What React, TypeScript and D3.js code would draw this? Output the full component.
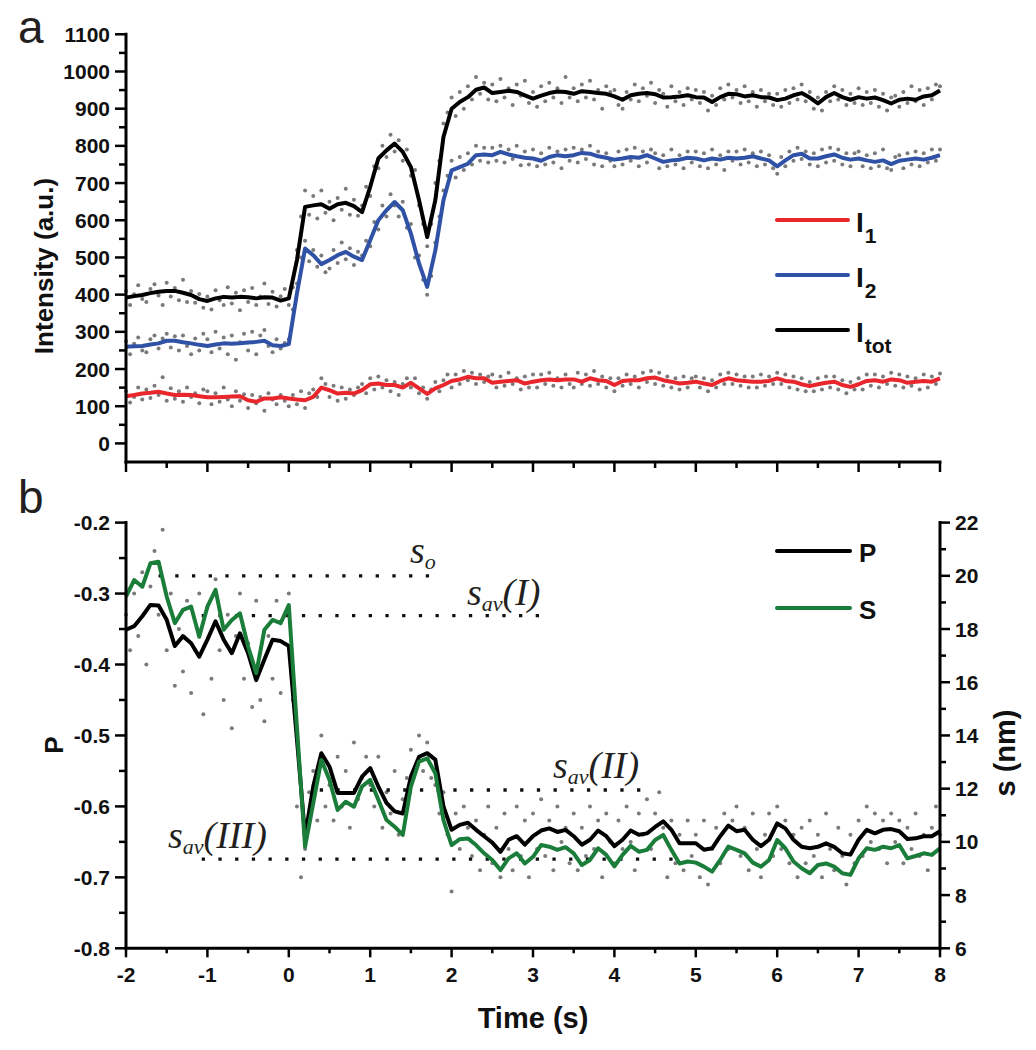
import React from 'react';
import * as d3 from 'd3';

// ---------- data ----------
const T_START = -2;
const LINE_STEP = 0.1;
const DOT_STEP = 0.05;

const ITOT_LINE = [
  392, 396, 399, 404, 408, 410, 410, 405, 399, 388,
  383, 390, 394, 392, 394, 393, 390, 393, 392, 384,
  390, 493, 636, 640, 643, 631, 643, 647, 638, 622,
  690, 766, 788, 806, 784, 743, 654, 555, 654, 824,
  900, 918, 931, 951, 957, 942, 945, 948, 945, 936,
  927, 935, 942, 946, 945, 940, 947, 945, 942, 940,
  933, 924, 936, 940, 942, 939, 930, 931, 933, 936,
  931, 930, 918, 931, 940, 939, 933, 936, 931, 930,
  923, 927, 936, 942, 930, 914, 931, 942, 931, 924,
  931, 927, 930, 923, 914, 924, 927, 924, 933, 936,
  949,
];

const I2_LINE = [
  260, 261, 262, 266, 269, 276, 276, 272, 269, 265,
  262, 266, 269, 268, 269, 271, 273, 276, 264, 262,
  267, 403, 524, 506, 482, 493, 506, 515, 502, 493,
  546, 600, 627, 649, 627, 564, 484, 421, 519, 654,
  734, 743, 752, 775, 777, 775, 784, 777, 772, 768,
  766, 760, 770, 775, 772, 775, 781, 779, 772, 768,
  763, 766, 770, 768, 775, 766, 757, 761, 763, 768,
  766, 761, 766, 763, 768, 766, 768, 772, 766, 761,
  745, 761, 775, 779, 766, 766, 772, 777, 768, 763,
  766, 761, 757, 761, 751, 760, 763, 766, 763, 768,
  775,
];

const I1_LINE = [
  127, 130, 134, 136, 139, 134, 130, 131, 130, 127,
  124, 124, 125, 126, 127, 116, 112, 121, 121, 124,
  121, 118, 116, 125, 150, 143, 134, 136, 134, 143,
  159, 161, 157, 157, 150, 163, 148, 133, 148, 157,
  168, 172, 179, 175, 175, 163, 166, 168, 170, 161,
  166, 170, 172, 170, 172, 172, 166, 175, 170, 168,
  157, 168, 170, 170, 175, 177, 170, 166, 161, 163,
  166, 161, 157, 168, 175, 170, 168, 166, 166, 168,
  175, 168, 166, 159, 154, 159, 163, 166, 157, 152,
  159, 168, 170, 166, 172, 170, 163, 166, 168, 166,
  175,
];

const P_LINE = [
  -0.351, -0.346, -0.332, -0.316, -0.317, -0.337, -0.374, -0.360, -0.370, -0.389,
  -0.365, -0.339, -0.365, -0.384, -0.356, -0.384, -0.422, -0.393, -0.365, -0.367,
  -0.374, -0.505, -0.642, -0.572, -0.525, -0.544, -0.581, -0.581, -0.581, -0.558,
  -0.546, -0.572, -0.595, -0.607, -0.610, -0.558, -0.530, -0.525, -0.534, -0.600,
  -0.633, -0.626, -0.623, -0.633, -0.642, -0.651, -0.664, -0.647, -0.642, -0.654,
  -0.642, -0.634, -0.631, -0.636, -0.633, -0.642, -0.654, -0.647, -0.634, -0.642,
  -0.656, -0.647, -0.634, -0.640, -0.638, -0.629, -0.621, -0.633, -0.652, -0.652,
  -0.652, -0.661, -0.659, -0.642, -0.627, -0.635, -0.633, -0.647, -0.656, -0.647,
  -0.624, -0.631, -0.647, -0.657, -0.659, -0.657, -0.652, -0.657, -0.666, -0.668,
  -0.647, -0.633, -0.638, -0.633, -0.632, -0.635, -0.646, -0.645, -0.642, -0.642,
  -0.635,
];

const S_LINE = [
  19.22, 19.84, 19.59, 20.47, 20.53, 19.22, 18.22, 18.72, 18.84, 17.71,
  18.84, 19.47, 17.97, 18.34, 18.59, 17.34, 16.34, 17.97, 18.34, 18.22,
  18.9, 14.3, 9.82, 11.45, 13.08, 12.33, 11.2, 11.51, 11.32, 12.08,
  12.33, 11.58, 10.82, 10.57, 10.26, 12.08, 13.02, 13.14, 12.58, 10.82,
  9.88, 10.1, 10.13, 9.88, 9.57, 9.32, 8.94, 9.38, 9.57, 9.19,
  9.44, 9.88, 9.82, 9.7, 9.8, 9.57, 9.13, 9.32, 9.76, 9.51,
  9.08, 9.51, 9.85, 9.63, 9.7, 10.07, 10.26, 9.7, 9.19, 9.26,
  9.22, 9.07, 8.88, 9.32, 9.82, 9.7, 9.57, 9.22, 9.07, 9.32,
  10.07, 9.76, 9.26, 9.01, 8.82, 9.13, 9.19, 9.07, 8.82, 8.76,
  9.38, 9.76, 9.7, 9.82, 9.76, 9.88, 9.38, 9.47, 9.57, 9.51,
  9.76,
];

const ITOT_DOTS = [
  410, 372, 401, 425, 388, 380, 415, 428, 398, 372,
  432, 395, 418, 385, 440, 380, 410, 378, 402, 365,
  395, 360, 412, 385, 372, 420, 376, 405, 358, 412,
  380, 418, 372, 395, 430, 375, 408, 368, 396, 415,
  372, 420, 520, 610, 680, 615, 665, 605, 680, 620,
  650, 600, 660, 628, 685, 615, 655, 612, 640, 690,
  665, 745, 740, 800, 770, 830, 785, 815, 760, 790,
  720, 735, 640, 590, 530, 590, 700, 760, 860, 890,
  930, 880, 945, 900, 960, 925, 985, 940, 970, 925,
  965, 920, 980, 930, 955, 910, 965, 935, 975, 915,
  945, 905, 960, 920, 970, 930, 955, 915, 985, 930,
  955, 920, 965, 930, 975, 925, 950, 900, 960, 945,
  950, 910, 900, 945, 925, 965, 920, 955, 935, 970,
  915, 950, 940, 905, 960, 920, 945, 910, 955, 925,
  950, 915, 945, 895, 935, 910, 955, 925, 965, 930,
  950, 915, 960, 920, 945, 905, 950, 920, 940, 910,
  940, 905, 950, 915, 955, 925, 965, 920, 945, 900,
  930, 895, 945, 920, 960, 925, 950, 910, 940, 915,
  955, 910, 945, 915, 950, 905, 940, 895, 930, 935,
  905, 945, 915, 960, 920, 950, 910, 955, 925, 965,
  960,
];

const I2_DOTS = [
  275, 240, 268, 285, 250, 245, 280, 290, 255, 282,
  295, 258, 288, 250, 290, 262, 240, 282, 250, 295,
  280, 245, 300, 255, 285, 240, 290, 225, 272, 295,
  250, 300, 240, 290, 305, 262, 245, 280, 255, 270,
  280, 360, 430, 500, 545, 490, 520, 475, 505, 460,
  470, 520, 485, 540, 495, 525, 480, 515, 505, 545,
  530, 595, 575, 640, 610, 670, 640, 610, 650, 580,
  590, 500, 505, 440, 400, 450, 540, 610, 680, 720,
  760, 715, 770, 735, 780, 750, 800, 760, 795, 755,
  795, 760, 800, 755, 790, 765, 800, 748, 785, 750,
  790, 745, 780, 750, 795, 755, 785, 740, 790, 760,
  795, 755, 790, 765, 800, 750, 785, 745, 780, 760,
  745, 785, 750, 790, 760, 795, 745, 785, 755, 790,
  780, 740, 775, 745, 790, 750, 775, 740, 785, 755,
  785, 745, 780, 740, 790, 750, 775, 735, 785, 760,
  785, 750, 790, 755, 780, 745, 785, 750, 775, 740,
  725, 770, 745, 785, 760, 795, 765, 785, 750, 780,
  745, 790, 755, 795, 760, 790, 750, 780, 745, 780,
  785, 745, 775, 740, 780, 745, 790, 740, 735, 770,
  775, 740, 780, 750, 785, 745, 780, 755, 790, 760,
  790,
];

const I1_DOTS = [
  140, 110, 125, 150, 118, 145, 122, 155, 130, 178,
  115, 148, 120, 140, 112, 150, 125, 135, 108, 145,
  140, 105, 135, 112, 150, 118, 100, 140, 115, 132,
  95, 130, 108, 125, 88, 135, 118, 105, 130, 115,
  100, 130, 105, 140, 95, 135, 145, 125, 175, 160,
  125, 155, 115, 150, 120, 145, 130, 150, 160, 135,
  175, 145, 180, 150, 170, 140, 165, 130, 160, 175,
  150, 175, 135, 150, 120, 145, 165, 140, 170, 185,
  150, 185, 160, 195, 170, 190, 160, 185, 165, 180,
  185, 150, 180, 155, 190, 160, 175, 145, 180, 150,
  185, 150, 185, 160, 190, 155, 175, 150, 185, 160,
  150, 190, 160, 185, 155, 195, 160, 180, 150, 175,
  140, 175, 155, 185, 160, 180, 150, 190, 165, 195,
  160, 190, 155, 180, 150, 175, 145, 180, 150, 175,
  180, 150, 175, 140, 170, 150, 185, 160, 190, 160,
  185, 155, 180, 150, 180, 150, 185, 155, 180, 160,
  190, 160, 185, 150, 180, 145, 175, 140, 165, 140,
  175, 145, 180, 150, 180, 145, 170, 135, 165, 145,
  175, 145, 185, 155, 185, 150, 180, 160, 190, 155,
  185, 150, 180, 155, 175, 145, 185, 150, 180, 160,
  188,
];

const P_DOTS = [
  -0.33, -0.38, -0.30, -0.36, -0.27, -0.40, -0.29, -0.24, -0.33, -0.21,
  -0.38, -0.30, -0.43, -0.35, -0.41, -0.31, -0.44, -0.38, -0.30, -0.47,
  -0.32, -0.42, -0.28, -0.38, -0.45, -0.33, -0.49, -0.36, -0.30, -0.42,
  -0.37, -0.46, -0.31, -0.45, -0.48, -0.36, -0.42, -0.31, -0.44, -0.33,
  -0.30, -0.45, -0.60, -0.70, -0.66, -0.58, -0.55, -0.62, -0.50, -0.60,
  -0.57, -0.62, -0.53, -0.60, -0.55, -0.63, -0.51, -0.59, -0.56, -0.53,
  -0.57, -0.60, -0.53, -0.63, -0.58, -0.61, -0.55, -0.64, -0.59, -0.56,
  -0.52, -0.55, -0.50, -0.55, -0.51, -0.56, -0.57, -0.61, -0.58, -0.64,
  -0.72, -0.61, -0.66, -0.60, -0.63, -0.67, -0.62, -0.69, -0.64, -0.60,
  -0.68, -0.63, -0.70, -0.61, -0.66, -0.69, -0.60, -0.67, -0.62, -0.70,
  -0.61, -0.66, -0.59, -0.67, -0.62, -0.69, -0.60, -0.65, -0.63, -0.68,
  -0.61, -0.69, -0.63, -0.67, -0.60, -0.66, -0.62, -0.70, -0.61, -0.65,
  -0.68, -0.62, -0.66, -0.60, -0.65, -0.69, -0.61, -0.64, -0.59, -0.66,
  -0.61, -0.58, -0.63, -0.70, -0.62, -0.68, -0.64, -0.69, -0.62, -0.67,
  -0.64, -0.70, -0.62, -0.71, -0.66, -0.63, -0.68, -0.61, -0.66, -0.62,
  -0.60, -0.67, -0.63, -0.69, -0.61, -0.66, -0.70, -0.64, -0.61, -0.67,
  -0.60, -0.66, -0.62, -0.68, -0.64, -0.70, -0.63, -0.68, -0.62, -0.67,
  -0.64, -0.70, -0.61, -0.66, -0.69, -0.63, -0.67, -0.71, -0.64, -0.68,
  -0.62, -0.67, -0.60, -0.65, -0.61, -0.66, -0.62, -0.68, -0.61, -0.65,
  -0.62, -0.68, -0.63, -0.66, -0.61, -0.67, -0.64, -0.69, -0.63, -0.60,
  -0.64,
];

const INTENSITY_TICKS = [0, 100, 200, 300, 400, 500, 600, 700, 800, 900, 1000, 1100];
const INTENSITY_MINOR = [50, 150, 250, 350, 450, 550, 650, 750, 850, 950, 1050];
const TIME_TICKS = [-2, -1, 0, 1, 2, 3, 4, 5, 6, 7, 8];
const TIME_MINOR = [-1.5, -0.5, 0.5, 1.5, 2.5, 3.5, 4.5, 5.5, 6.5, 7.5];
const P_TICKS = [-0.8, -0.7, -0.6, -0.5, -0.4, -0.3, -0.2];
const P_TICK_LABELS = ['-0.8', '-0.7', '-0.6', '-0.5', '-0.4', '-0.3', '-0.2'];
const P_MINOR = [-0.75, -0.65, -0.55, -0.45, -0.35, -0.25];
const S_TICKS = [6, 8, 10, 12, 14, 16, 18, 20, 22];
const S_MINOR = [7, 9, 11, 13, 15, 17, 19, 21];

const REF_LEVEL = [20.0, 18.5, 11.95, 9.35];
const REF_T0 = [-1.6, -1.07, 0.38, -1.07];
const REF_T1 = [1.76, 3.09, 4.33, 4.75];
const REF_SUB = ['o', 'av', 'av', 'av'];
const REF_TAIL = ['', '(I)', '(II)', '(III)'];

const LEGEND_TOP = ['I1', 'I2', 'Itot'];
const LEGEND_BOTTOM = ['P', 'S'];

// ---------- styles ----------
const SANS = "'Liberation Sans', Arial, Helvetica, sans-serif";
const SERIF = "'Liberation Serif', 'Times New Roman', serif";
const RED = '#e8262b';
const BLUE = '#2f51a6';
const GREEN = '#1b7d3a';
const DOT = '#7a7a7a';
const INK = '#111';

export default function App() {
  const x = d3.scaleLinear().domain([-2, 8]).range([126, 940]);
  const yI = d3.scaleLinear().domain([-50, 1100]).range([462, 34.3]);
  const yP = d3.scaleLinear().domain([-0.8, -0.2]).range([948.3, 522.6]);
  const yS = d3.scaleLinear().domain([6, 22]).range([948.3, 522.6]);

  const lt = (i: number) => T_START + i * LINE_STEP;
  const dt = (i: number) => T_START + i * DOT_STEP;

  const mkLine = (vals: number[], y: d3.ScaleLinear<number, number>) =>
    d3.line<number>().x((_, i) => x(lt(i))).y((v) => y(v))(vals) || '';

  const dots = (vals: number[], y: d3.ScaleLinear<number, number>, key: string) =>
    vals.map((v, i) => (
      <circle key={key + i} cx={x(dt(i))} cy={y(v)} r={2} fill={DOT} />
    ));

  const axisW = 3;
  const tickW = 2.5;
  const TICK_FS = 21;

  const legendTopColors = [RED, BLUE, '#000'];
  const legendTopSubs = ['1', '2', 'tot'];
  const legendBotColors = ['#000', GREEN];

  // annotation label placement relative to each reference line (pixels)
  const annot = [
    { x: 410, dy: -13 },
    { x: 467, dy: -11 },
    { x: 553, dy: -12 },
    { x: 168, dy: -11 },
  ];

  return (
    <svg
      width={1036}
      height={1050}
      style={{ position: 'absolute', left: 0, top: 0, background: '#fff' }}
      fontFamily={SANS}
    >
      <rect x={0} y={0} width={1036} height={1050} fill="#fff" />

      {/* panel letters */}
      <text x={18} y={43} fontSize={46} fill="#231f20">a</text>
      <text x={18} y={513} fontSize={46} fill="#231f20">b</text>

      {/* ===== TOP PANEL ===== */}
      {dots(I1_DOTS, yI, 'd1')}
      {dots(I2_DOTS, yI, 'd2')}
      {dots(ITOT_DOTS, yI, 'dt')}
      <path d={mkLine(I1_LINE, yI)} fill="none" stroke={RED} strokeWidth={4} strokeLinejoin="round" />
      <path d={mkLine(I2_LINE, yI)} fill="none" stroke={BLUE} strokeWidth={4} strokeLinejoin="round" />
      <path d={mkLine(ITOT_LINE, yI)} fill="none" stroke="#000" strokeWidth={4} strokeLinejoin="round" />

      {/* top y axis */}
      <line x1={x(-2)} x2={x(-2)} y1={yI(-50)} y2={yI(1100)} stroke="#000" strokeWidth={axisW} strokeLinecap="square" />
      {INTENSITY_TICKS.map((t) => (
        <g key={'it' + t}>
          <line x1={x(-2) - 11} x2={x(-2)} y1={yI(t)} y2={yI(t)} stroke="#000" strokeWidth={tickW} />
          <text x={110} y={yI(t)} dy="0.36em" textAnchor="end" fontSize={TICK_FS} fontWeight="bold" fill={INK}>{t}</text>
        </g>
      ))}
      {INTENSITY_MINOR.map((t) => (
        <line key={'im' + t} x1={x(-2) - 7} x2={x(-2)} y1={yI(t)} y2={yI(t)} stroke="#000" strokeWidth={tickW} />
      ))}
      {/* top x axis */}
      <line x1={x(-2)} x2={x(8)} y1={yI(-50)} y2={yI(-50)} stroke="#000" strokeWidth={axisW} strokeLinecap="square" />
      {TIME_TICKS.map((t) => (
        <line key={'tt' + t} x1={x(t)} x2={x(t)} y1={yI(-50)} y2={yI(-50) + 10} stroke="#000" strokeWidth={tickW} />
      ))}
      {TIME_MINOR.map((t) => (
        <line key={'tm' + t} x1={x(t)} x2={x(t)} y1={yI(-50)} y2={yI(-50) + 6} stroke="#000" strokeWidth={tickW} />
      ))}
      <text transform="translate(53,266) rotate(-90)" textAnchor="middle" fontSize={26} fontWeight="bold" fill={INK}>
        Intensity (a.u.)
      </text>

      {/* top legend */}
      {LEGEND_TOP.map((name, i) => {
        const ly = 220 + i * 55;
        return (
          <g key={'lt' + name}>
            <line x1={777} x2={848} y1={ly} y2={ly} stroke={legendTopColors[i]} strokeWidth={4} strokeLinecap="round" />
            <text x={856} y={ly + 12} fontSize={28} fontWeight="bold" fill={INK}>
              I
              <tspan dx={1} dy={11} fontSize={21}>{legendTopSubs[i]}</tspan>
            </text>
          </g>
        );
      })}

      {/* ===== BOTTOM PANEL ===== */}
      {dots(P_DOTS, yP, 'dp')}

      {REF_LEVEL.map((s, i) => (
        <line
          key={'ref' + i}
          x1={x(REF_T0[i])}
          x2={x(REF_T1[i])}
          y1={yS(s)}
          y2={yS(s)}
          stroke="#111"
          strokeWidth={3.3}
          strokeDasharray="3.3 13.4"
        />
      ))}

      <path d={mkLine(P_LINE, yP)} fill="none" stroke="#000" strokeWidth={4} strokeLinejoin="round" />
      <path d={mkLine(S_LINE, yS)} fill="none" stroke={GREEN} strokeWidth={4} strokeLinejoin="round" />

      {REF_LEVEL.map((s, i) => (
        <text
          key={'rl' + i}
          x={annot[i].x}
          y={yS(s) + annot[i].dy}
          fontFamily={SERIF}
          fontStyle="italic"
          fontSize={38}
          fill="#231f20"
        >
          s
          <tspan dy={6} fontSize={22}>{REF_SUB[i]}</tspan>
          {REF_TAIL[i] ? <tspan dy={-6}>{REF_TAIL[i]}</tspan> : null}
        </text>
      ))}

      {/* left P axis */}
      <line x1={x(-2)} x2={x(-2)} y1={yP(-0.8)} y2={yP(-0.2)} stroke="#000" strokeWidth={axisW} strokeLinecap="square" />
      {P_TICKS.map((t, i) => (
        <g key={'pt' + i}>
          <line x1={x(-2) - 11} x2={x(-2)} y1={yP(t)} y2={yP(t)} stroke="#000" strokeWidth={tickW} />
          <text x={110} y={yP(t)} dy="0.36em" textAnchor="end" fontSize={TICK_FS} fontWeight="bold" fill={INK}>{P_TICK_LABELS[i]}</text>
        </g>
      ))}
      {P_MINOR.map((t, i) => (
        <line key={'pm' + i} x1={x(-2) - 7} x2={x(-2)} y1={yP(t)} y2={yP(t)} stroke="#000" strokeWidth={tickW} />
      ))}
      <text transform="translate(63,745) rotate(-90)" textAnchor="middle" fontSize={26} fontWeight="bold" fill={INK}>P</text>

      {/* right s axis */}
      <line x1={x(8)} x2={x(8)} y1={yS(6)} y2={yS(22)} stroke="#000" strokeWidth={axisW} strokeLinecap="square" />
      {S_TICKS.map((t) => (
        <g key={'st' + t}>
          <line x1={x(8)} x2={x(8) + 10} y1={yS(t)} y2={yS(t)} stroke="#000" strokeWidth={tickW} />
          <text x={955} y={yS(t)} dy="0.36em" textAnchor="start" fontSize={TICK_FS} fontWeight="bold" fill={INK}>{t}</text>
        </g>
      ))}
      {S_MINOR.map((t) => (
        <line key={'sm' + t} x1={x(8)} x2={x(8) + 6} y1={yS(t)} y2={yS(t)} stroke="#000" strokeWidth={tickW} />
      ))}
      <text transform="translate(1015,753) rotate(-90)" textAnchor="middle" fontSize={29} fontWeight="bold" fill={INK}>s (nm)</text>

      {/* bottom x axis */}
      <line x1={x(-2)} x2={x(8)} y1={yP(-0.8)} y2={yP(-0.8)} stroke="#000" strokeWidth={axisW} strokeLinecap="square" />
      {TIME_TICKS.map((t) => (
        <g key={'bt' + t}>
          <line x1={x(t)} x2={x(t)} y1={yP(-0.8)} y2={yP(-0.8) + 9} stroke="#000" strokeWidth={tickW} />
          <text x={x(t)} y={982} textAnchor="middle" fontSize={TICK_FS} fontWeight="bold" fill={INK}>{String(t)}</text>
        </g>
      ))}
      {TIME_MINOR.map((t) => (
        <line key={'bm' + t} x1={x(t)} x2={x(t)} y1={yP(-0.8)} y2={yP(-0.8) + 5} stroke="#000" strokeWidth={tickW} />
      ))}
      <text x={533} y={1028} textAnchor="middle" fontSize={29} fontWeight="bold" fill={INK}>Time (s)</text>

      {/* bottom legend */}
      {LEGEND_BOTTOM.map((name, i) => {
        const ly = 551 + i * 57;
        return (
          <g key={'lb' + name}>
            <line x1={777} x2={850} y1={ly} y2={ly} stroke={legendBotColors[i]} strokeWidth={4} strokeLinecap="round" />
            <text x={859} y={ly + 11} fontSize={26} fontWeight="bold" fill={INK}>{name}</text>
          </g>
        );
      })}
    </svg>
  );
}
